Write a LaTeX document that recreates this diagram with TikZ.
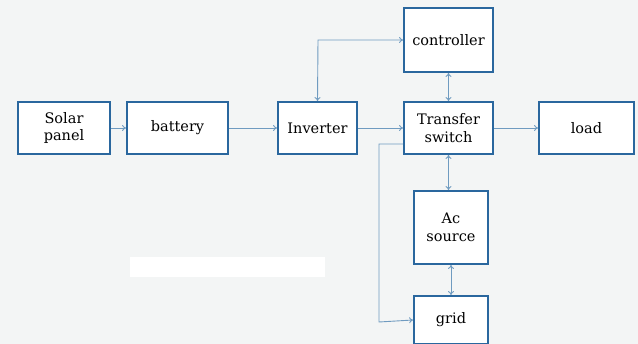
\documentclass[tikz,border=0pt]{standalone}
\usepackage{fontspec}
\setmainfont{DejaVu Serif}
\usetikzlibrary{arrows.meta}
\definecolor{bg}{HTML}{F3F5F5}
\definecolor{boxc}{HTML}{2A679E}
\definecolor{linec}{HTML}{6F9BC0}
\begin{document}
\begin{tikzpicture}[x=1pt,y=-1pt,
  blk/.style={draw=boxc,line width=1.8pt,fill=white,align=center,font=\fontsize{14.5}{17.5}\selectfont,inner sep=0pt},
  conn/.style={draw=linec,line width=0.9pt,-{To[length=4pt,width=6pt]}},
  bconn/.style={draw=linec,line width=0.9pt,{To[length=4pt,width=6pt]}-{To[length=4pt,width=6pt]}}]
\useasboundingbox (0,0) rectangle (638,344);
\fill[bg] (0,0) rectangle (638,344);
\fill[white] (130,257) rectangle (325,277);
\node[blk,minimum width=92pt,minimum height=52pt] (solar) at (64,128) {Solar\\panel};
\node[blk,minimum width=101pt,minimum height=52pt] (batt) at (177.5,128) {battery};
\node[blk,minimum width=79pt,minimum height=52pt] (inv) at (317.5,128) {Inverter};
\node[blk,minimum width=89pt,minimum height=52pt] (ts) at (448.5,128) {Transfer\\switch};
\node[blk,minimum width=95pt,minimum height=52pt] (load) at (586.5,128) {load};
\node[blk,minimum width=89pt,minimum height=64pt] (ctrl) at (448.5,40) {controller};
\node[blk,minimum width=74pt,minimum height=73pt] (ac) at (451,227.5) {Ac\\source};
\node[blk,minimum width=74pt,minimum height=48pt] (grid) at (451,320) {grid};
\coordinate (c1) at (318,40);
\coordinate (g1) at (379,144);
\coordinate (g2) at (379,322);
\draw[conn] (solar) -- (batt);
\draw[conn] (batt) -- (inv);
\draw[conn] (inv) -- (ts);
\draw[conn] (ts) -- (load);
\draw[bconn] (inv.north) -- (c1) -- (ctrl.west);
\draw[bconn] (ctrl) -- (ts);
\draw[bconn] (ts.south) -- (ts.south |- ac.north);
\draw[bconn] (ac) -- (grid);
\draw[conn] (ts.west |- g1) -- (g1) -- (g2) -- (grid.west);
\end{tikzpicture}
\end{document}
